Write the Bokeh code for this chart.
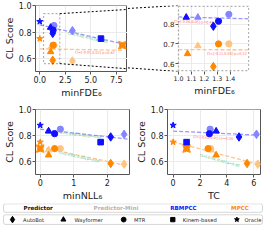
import math
import numpy as np
from bokeh.plotting import figure
from bokeh.models import (Range1d, FixedTicker, PrintfTickFormatter, ColumnDataSource,
                          BoxAnnotation)
from bokeh.layouts import column, row
from bokeh.embed import file_html
from bokeh.resources import INLINE
from bokeh.core.properties import value, field

# ---------------- data ----------------
models = ["AutoBot-Mini", "Wayformer-Mini", "MTR-Mini", "AutoBot", "Wayformer", "MTR", "Kinem-based", "Oracle"]
families = ["AutoBot", "Wayformer", "MTR", "AutoBot", "Wayformer", "MTR", "Kinem-based", "Oracle"]
variants = ["Predictor-Mini", "Predictor-Mini", "Predictor-Mini", "Predictor", "Predictor", "Predictor", "Predictor", "Predictor"]

cl_rbmpcc = [0.81, 0.835, 0.85, 0.79, 0.835, 0.815, 0.75, 0.88]
cl_mpcc = [0.58, 0.69, 0.70, 0.585, 0.65, 0.70, 0.70, 0.75]

minfde_rbmpcc = [3.2, 1.15, 1.39, 1.27, 1.06, 1.31, 6.0, 0.0]
minfde_mpcc = [3.2, 1.15, 1.39, 1.27, 1.07, 1.31, 8.1, 0.0]
minnll_rbmpcc = [2.5, 0.25, 0.6, 2.1, 0.25, 0.43, 1.8, 0.0]
minnll_mpcc = [2.5, 0.25, 0.6, 2.1, 0.25, 0.43, 0.0, 0.0]
tc_rbmpcc = [6.2, 2.8, 2.75, 4.9, 3.2, 2.7, 1.0, 0.0]
tc_mpcc = [6.3, 2.8, 2.8, 5.5, 3.2, 2.6, 1.0, 0.0]

fde_ticks = [0, 2.5, 5, 7.5]
fde_zoom_ticks = [1.0, 1.1, 1.2, 1.3, 1.4]
nll_ticks = [0, 1, 2]
tc_ticks = [0, 2, 4, 6]
cl_ticks = [0.6, 0.8, 1.0]
cl_zoom_ticks = [0.6, 0.7, 0.8]

ci_fde_text = ["CI=[-0.03,-0.01] p=0.01", "CI=[-0.01,0.02] p=0.87"]
ci_fde_p = [0.01, 0.87]
ci_zoom_text = ["CI=[-0.06,0.05] p=0.41", "CI=[-0.11,0.04] p=0.22"]
ci_zoom_p = [0.41, 0.22]
ci_nll_text = ["CI=[-0.08,-0.00] p=0.03", "CI=[-0.08,-0.03] p=0.00"]
ci_nll_p = [0.03, 0.00]
ci_tc_text = ["CI=[-0.02,0.01] p=0.30", "CI=[-0.04,-0.02] p=0.00"]
ci_tc_p = [0.30, 0.00]

legend_variants = ["Predictor", "Predictor-Mini", "RBMPCC", "MPCC"]
legend_models = ["AutoBot", "Wayformer", "MTR", "Kinem-based", "Oracle"]

# ---------------- style / layout ----------------
FONT = "DejaVu Sans"
BLUE, BLUE_MINI = "#1010ff", "#8585ff"
ORANGE, ORANGE_MINI = "#ff8800", "#ffc47f"
GREEN, RED = "#3cb878", "#ff5a5a"
LINE_BLUE, LINE_ORANGE = "#8d8dff", "#ffbf80"
SPINE = "#555555"

marker_of = {"AutoBot": "diamond", "Wayformer": "triangle", "MTR": "circle",
             "Kinem-based": "square", "Oracle": "star"}
size_of = {"diamond": 8.5, "triangle": 6.5, "circle": 6.2, "square": 5.6,
           "square_pin": 7.5, "star": 6.5}

L = {
    "tl": dict(cx=0, cy=0, w=127, h=100, l=30, r=0, t=4, b=27),
    "tr": dict(cx=127, cy=0, w=137, h=100, l=0, r=15, t=5, b=26),
    "bl": dict(cx=0, cy=100, w=132, h=103, l=30, r=3, t=9, b=24),
    "br": dict(cx=132, cy=100, w=132, h=103, l=31, r=4, t=9, b=24),
}
# inset: data window [1.0, 1.55] x [0.56, 0.895] shown from canvas x=178 to the frame's right edge
INSET_X, INSET_Y = (1.0, 1.55), (0.56, 0.895)
INSET_LEFT_PX = 178
_tr_fw = L["tr"]["w"] - L["tr"]["l"] - L["tr"]["r"]
_tr_ppu = (L["tr"]["cx"] + L["tr"]["l"] + _tr_fw - INSET_LEFT_PX) / (INSET_X[1] - INSET_X[0])
RANGES = {
    "tl": ((-0.42, 8.6), (0.5, 1.002)),
    "tr": ((INSET_X[0] - (INSET_LEFT_PX - L["tr"]["cx"] - L["tr"]["l"]) / _tr_ppu, INSET_X[1]),
           INSET_Y),
    "bl": ((-0.14, 2.66), (0.5, 1.002)),
    "br": ((-0.42, 6.5), (0.5, 1.002)),
}
zoom_box = dict(left=0.37, right=1.96, bottom=0.56, top=0.94)


def frame(key):
    d = L[key]
    return d["w"] - d["l"] - d["r"], d["h"] - d["t"] - d["b"]


def to_px(key, x, y):
    d = L[key]
    (x0, x1), (y0, y1) = RANGES[key]
    fw, fh = frame(key)
    return (d["cx"] + d["l"] + (x - x0) / (x1 - x0) * fw,
            d["cy"] + d["t"] + (y1 - y) / (y1 - y0) * fh)


def to_data(key, px, py):
    d = L[key]
    (x0, x1), (y0, y1) = RANGES[key]
    fw, fh = frame(key)
    return (x0 + (px - d["cx"] - d["l"]) / fw * (x1 - x0),
            y1 - (py - d["cy"] - d["t"]) / fh * (y1 - y0))


def screen_angle(key, slope):
    (x0, x1), (y0, y1) = RANGES[key]
    fw, fh = frame(key)
    return math.atan(slope * (fh / (y1 - y0)) / (fw / (x1 - x0)))


def make_panel(key, xticks, yticks, xfmt, xlabel, ylabel, xtick_size="8px", ytick_size="8px"):
    d = L[key]
    xr, yr = RANGES[key]
    p = figure(width=d["w"], height=d["h"], x_range=Range1d(*xr), y_range=Range1d(*yr),
               output_backend="svg", toolbar_location=None,
               min_border_left=d["l"], min_border_right=d["r"],
               min_border_top=d["t"], min_border_bottom=d["b"])
    p.background_fill_color = "white"
    p.border_fill_color = "white"
    p.outline_line_color = SPINE
    p.outline_line_width = 1
    p.xaxis.ticker = FixedTicker(ticks=xticks)
    p.yaxis.ticker = FixedTicker(ticks=yticks)
    p.xaxis.formatter = PrintfTickFormatter(format=xfmt)
    p.yaxis.formatter = PrintfTickFormatter(format="%.1f")
    for ax, ts in ((p.xaxis[0], xtick_size), (p.yaxis[0], ytick_size)):
        ax.axis_line_color = None
        ax.major_tick_line_color = SPINE
        ax.major_tick_out = 3
        ax.major_tick_in = 0
        ax.minor_tick_line_color = None
        ax.major_label_standoff = 1
        ax.axis_label_standoff = 1
        ax.major_label_text_font = FONT
        ax.major_label_text_font_size = ts
        ax.major_label_text_color = "#222222"
        ax.axis_label_text_font = FONT
        ax.axis_label_text_font_size = "9.5px"
        ax.axis_label_text_font_style = "normal"
        ax.axis_label_text_color = "#222222"
    p.xaxis.axis_label = xlabel
    p.yaxis.axis_label = ylabel
    p.xgrid.grid_line_color = "#ebebeb"
    p.ygrid.grid_line_color = "#ebebeb"
    return p


def point_source(xs, cl, controller):
    mk, col, sz = [], [], []
    for fam, var in zip(families, variants):
        m = marker_of[fam]
        if fam == "Kinem-based" and controller == "MPCC":
            m = "square_pin"
        if controller == "RBMPCC":
            c = BLUE_MINI if var == "Predictor-Mini" else BLUE
        else:
            c = ORANGE_MINI if var == "Predictor-Mini" else ORANGE
        mk.append(m)
        col.append(c)
        sz.append(size_of[m])
    return ColumnDataSource(dict(x=xs, y=cl, marker=mk, color=col, size=sz))


def add_points(p, xs_r, xs_m):
    for xs, cl, ctrl in ((xs_m, cl_mpcc, "MPCC"), (xs_r, cl_rbmpcc, "RBMPCC")):
        p.scatter("x", "y", marker=field("marker"), size="size", fill_color="color",
                  line_color="color", source=point_source(xs, cl, ctrl))


def add_fits(p, key, fits, xspan, ci_text, ci_p, ci_pos):
    for (k, b), lc, txt, pv, pos in zip(fits, (LINE_BLUE, LINE_ORANGE), ci_text, ci_p, ci_pos):
        xl = [xspan[0], xspan[1]]
        yl = [k * xspan[0] + b, k * xspan[1] + b]
        p.line(xl, yl, line_color=lc, line_width=1.3, line_dash="4 2", line_alpha=0.9)
        p.text(x=[pos[0]], y=[pos[1]], text=[txt], angle=screen_angle(key, k),
               text_color=GREEN if pv < 0.05 else RED, text_font=value(FONT),
               text_font_size="3.4px", text_align="center", text_baseline="middle")


def fit(xs, ys):
    k, b = np.polyfit(np.asarray(xs, float), np.asarray(ys, float), 1)
    return k, b


SUB6 = "\u2086"

# ---------- top-left: minFDE ----------
tl = make_panel("tl", fde_ticks, cl_ticks, "%.1f", "minFDE" + SUB6, "CL Score")
fits_fde = (fit(minfde_rbmpcc, cl_rbmpcc), fit(minfde_mpcc, cl_mpcc))
span_fde = (min(minfde_rbmpcc + minfde_mpcc), max(minfde_rbmpcc + minfde_mpcc))
add_fits(tl, "tl", fits_fde, span_fde, ci_fde_text, ci_fde_p, [(4.7, 0.757), (5.4, 0.643)])
add_points(tl, minfde_rbmpcc, minfde_mpcc)
tl.add_layout(BoxAnnotation(fill_alpha=0, line_color="black", line_dash="2 2", line_width=1.2,
                            **zoom_box))

# ---------- top-right: zoomed minFDE (inset window inside a wider frame) ----------
# x label centred on the inset window (frame is wider on the left for the connectors)
tr = make_panel("tr", fde_zoom_ticks, cl_zoom_ticks, "%.1f",
                "\u2003" * 5 + "\u2002" + "minFDE" + SUB6, None,
                xtick_size="6.3px", ytick_size="7px")
tr.outline_line_color = None
tr.yaxis.fixed_location = INSET_X[0]
# blank the area left of the inset window (hides horizontal grid lines there)
tr.add_layout(BoxAnnotation(right=INSET_X[0], fill_color="white", fill_alpha=1,
                            line_alpha=0, level="underlay"))
add_fits(tr, "tr", fits_fde, (INSET_X[0], span_fde[1]), ci_zoom_text, ci_zoom_p,
         [(1.12, 0.811), (1.375, 0.65)])
add_points(tr, minfde_rbmpcc, minfde_mpcc)
_tr_ppuy = frame("tr")[1] / (INSET_Y[1] - INSET_Y[0])
tr.add_layout(BoxAnnotation(left=INSET_X[0], right=INSET_X[1] - 0.8 / _tr_ppu,
                            bottom=INSET_Y[0] + 0.8 / _tr_ppuy, top=INSET_Y[1] - 0.8 / _tr_ppuy,
                            fill_alpha=0, line_color="black", line_dash="2 2", line_width=1.3))

# connectors between zoom box (top-left) and inset (top-right)
for by, ty in ((zoom_box["top"], INSET_Y[1]), (zoom_box["bottom"], INSET_Y[0])):
    a_px = to_px("tl", zoom_box["right"], by)
    b_px = to_px("tr", INSET_X[0], ty)
    bx_tl, by_tl = to_data("tl", *b_px)
    tl.line([zoom_box["right"], bx_tl], [by, by_tl], line_color="black", line_dash="2 2",
            line_width=1)
    ax_tr, ay_tr = to_data("tr", *a_px)
    tr.line([ax_tr, INSET_X[0]], [ay_tr, ty], line_color="black", line_dash="2 2", line_width=1)

# ---------- bottom-left: minNLL ----------
bl = make_panel("bl", nll_ticks, cl_ticks, "%d", "minNLL" + SUB6, "CL Score")
fits_nll = (fit(minnll_rbmpcc, cl_rbmpcc), fit(minnll_mpcc, cl_mpcc))
span_nll = (min(minnll_rbmpcc + minnll_mpcc), max(minnll_rbmpcc + minnll_mpcc) + 0.1)
add_fits(bl, "bl", fits_nll, span_nll, ci_nll_text, ci_nll_p, [(1.2, 0.805), (1.16, 0.634)])
add_points(bl, minnll_rbmpcc, minnll_mpcc)

# ---------- bottom-right: TC ----------
br = make_panel("br", tc_ticks, cl_ticks, "%d", "TC", "CL Score")
fits_tc = (fit(tc_rbmpcc, cl_rbmpcc), fit(tc_mpcc, cl_mpcc))
span_tc = (min(tc_rbmpcc + tc_mpcc), max(tc_rbmpcc + tc_mpcc))
add_fits(br, "br", fits_tc, span_tc, ci_tc_text, ci_tc_p, [(2.98, 0.782), (3.45, 0.607)])
add_points(br, tc_rbmpcc, tc_mpcc)

# ---------- legends ----------
lg = figure(width=264, height=28, x_range=Range1d(0, 264), y_range=Range1d(28, 0),
            output_backend="svg", toolbar_location=None, min_border=0,
            x_axis_location=None, y_axis_location=None)
lg.grid.visible = False
lg.outline_line_color = None
lg.add_layout(BoxAnnotation(left=3, right=262, top=0.3, bottom=8.8, fill_alpha=0,
                            line_color=SPINE, line_width=0.8, border_radius=2))
lg.add_layout(BoxAnnotation(left=3, right=262, top=11.3, bottom=20.9, fill_alpha=0,
                            line_color=SPINE, line_width=0.8, border_radius=2))
lg.text(x=[37.7, 115.5, 183, 239.5], y=[4.6] * 4, text=legend_variants,
        text_color=["#111111", "#b3b3b3", BLUE, ORANGE], text_font=value(FONT),
        text_font_size="5.6px", text_font_style="bold", text_align="center",
        text_baseline="middle")
lg.scatter(x=[12, 62.9, 123.2, 172.3, 236.4], y=[16.1] * 5,
           marker=["diamond", "triangle", "circle", "square", "star"],
           size=[6.5, 5, 4.8, 4.3, 5], color="black")
lg.text(x=[22.6, 73.9, 133.6, 182.3, 244], y=[16.1] * 5, text=legend_models,
        text_color="#222222", text_font=value(FONT), text_font_size="5.2px",
        text_align="left", text_baseline="middle")

layout = column(row(tl, tr), row(bl, br), lg)
open("out.html", "w").write(file_html(layout, INLINE))
